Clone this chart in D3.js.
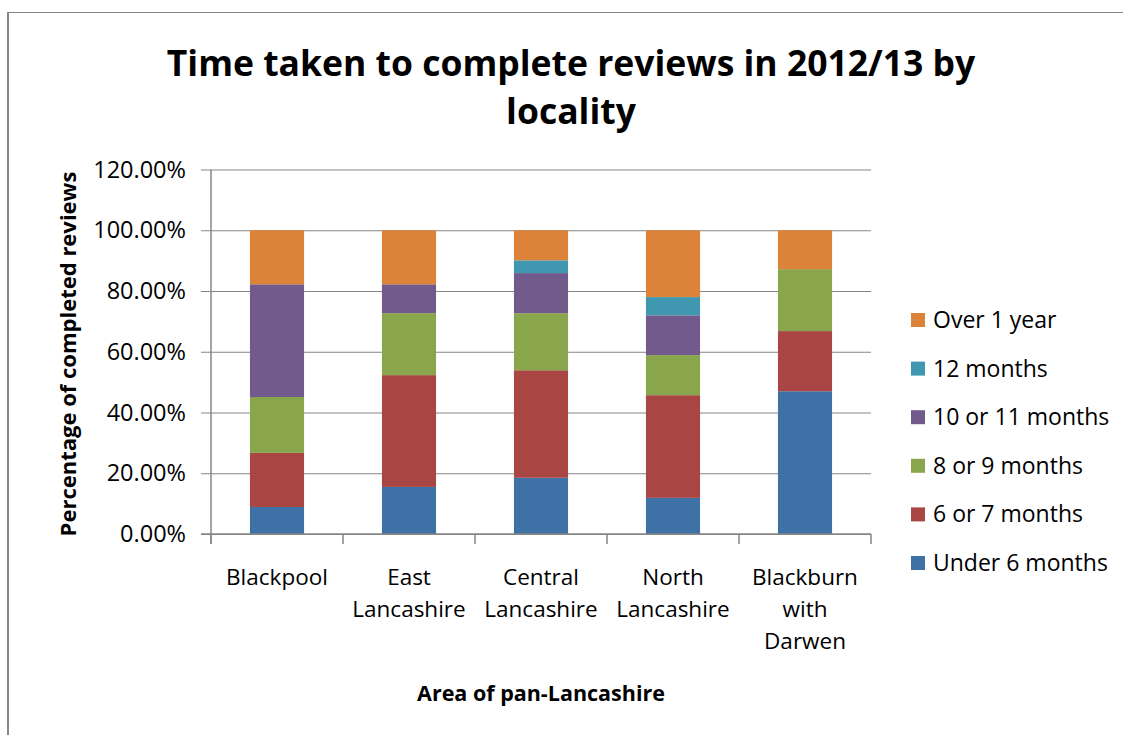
<!DOCTYPE html>
<html>
<head>
<meta charset="utf-8">
<script src="https://cdn.jsdelivr.net/npm/d3@7"></script>
<style>
  html, body { margin: 0; padding: 0; background: #fff; }
  svg { display: block; }
  text { font-family: "Open Sans", "Noto Sans", sans-serif; fill: #000; }
</style>
</head>
<body>
<svg id="chart" width="1123" height="735"></svg>
<script>
// Localities along the x axis (label lines as printed under each bar)
const categories = ["Blackpool", "East Lancashire", "Central Lancashire", "North Lancashire", "Blackburn with Darwen"];
const categoryLines = [["Blackpool"], ["East", "Lancashire"], ["Central", "Lancashire"], ["North", "Lancashire"], ["Blackburn", "with", "Darwen"]];

// Share of completed reviews by time taken (stacked bottom to top)
const seriesNames = ["Under 6 months", "6 or 7 months", "8 or 9 months", "10 or 11 months", "12 months", "Over 1 year"];
const under6   = [0.089, 0.155, 0.185, 0.119, 0.470];
const months67 = [0.178, 0.368, 0.354, 0.338, 0.198];
const months89 = [0.184, 0.204, 0.188, 0.132, 0.204];
const months1011 = [0.371, 0.095, 0.132, 0.131, 0.000];
const months12 = [0.000, 0.000, 0.042, 0.060, 0.000];
const over1yr  = [0.178, 0.178, 0.099, 0.220, 0.128];
const seriesColors = ["#3E71A5", "#A94543", "#8AA64C", "#735A8D", "#3F98B0", "#DD8339"];

const yTicks = [0, 0.2, 0.4, 0.6, 0.8, 1.0, 1.2];

const titleLines = ["Time taken to complete reviews in 2012/13 by", "locality"];
const xTitle = "Area of pan-Lancashire";
const yTitle = "Percentage of completed reviews";

const seriesValues = [under6, months67, months89, months1011, months12, over1yr];
const rows = categories.map((c, i) => {
  const r = { category: c };
  seriesNames.forEach((s, k) => { r[s] = seriesValues[k][i]; });
  return r;
});

const svg = d3.select("#chart");
const grey = "#868686";

// outer frame of the chart object
svg.append("line").attr("x1", 8).attr("x2", 8).attr("y1", 12).attr("y2", 735)
  .attr("stroke", grey).attr("stroke-width", 2);
svg.append("line").attr("x1", 7).attr("x2", 1123).attr("y1", 12.5).attr("y2", 12.5)
  .attr("stroke", grey).attr("stroke-width", 1);

const plot = { left: 211, right: 871, top: 169.5, bottom: 534 };

const x = d3.scaleBand().domain(categories)
  .range([plot.left, plot.right]).paddingInner(0.59).paddingOuter(0.295);
const y = d3.scaleLinear().domain([0, 1.2]).range([plot.bottom, plot.top]);
const color = d3.scaleOrdinal().domain(seriesNames).range(seriesColors);

// horizontal gridlines with short tick stubs left of the axis
const yAxis = d3.axisLeft(y).tickValues(yTicks).tickFormat(d3.format(".2%"))
  .tickSize(10).tickPadding(15);
const yG = svg.append("g").attr("transform", `translate(${plot.left},0)`).call(yAxis);
yG.select(".domain").remove();
yG.selectAll(".tick line").attr("stroke", grey).attr("stroke-width", 1)
  .attr("x1", plot.right - plot.left).attr("x2", -10);
yG.selectAll(".tick text").attr("font-size", 23.5).attr("fill", "#000")
  .attr("font-family", "Open Sans");

// stacked bars
const stack = d3.stack().keys(seriesNames);
const layers = stack(rows);
svg.append("g").selectAll("g").data(layers).join("g")
  .attr("fill", d => color(d.key))
  .selectAll("rect").data(d => d).join("rect")
  .attr("x", d => x(d.data.category))
  .attr("width", x.bandwidth())
  .attr("y", d => y(d[1]))
  .attr("height", d => y(d[0]) - y(d[1]));

// vertical axis line
svg.append("line").attr("x1", plot.left).attr("x2", plot.left)
  .attr("y1", plot.top).attr("y2", plot.bottom + 10)
  .attr("stroke", grey).attr("stroke-width", 1.5);

// category axis: baseline, boundary ticks, wrapped labels
const step = x.step();
const xG = svg.append("g");
xG.append("line").attr("x1", plot.left - 10).attr("x2", plot.right)
  .attr("y1", plot.bottom).attr("y2", plot.bottom)
  .attr("stroke", grey).attr("stroke-width", 1.5);
xG.selectAll(".bnd").data(d3.range(categories.length + 1)).join("line")
  .attr("class", "bnd")
  .attr("x1", i => plot.left + i * step).attr("x2", i => plot.left + i * step)
  .attr("y1", plot.bottom).attr("y2", plot.bottom + 10)
  .attr("stroke", grey).attr("stroke-width", 1.5);
categories.forEach((c, i) => {
  const cx = x(c) + x.bandwidth() / 2;
  const t = xG.append("text").attr("text-anchor", "middle").attr("font-size", 22.5)
    .attr("x", cx).attr("y", 585);
  categoryLines[i].forEach((line, j) => {
    t.append("tspan").attr("x", cx).attr("dy", j === 0 ? 0 : 32).text(line);
  });
});

// title
const title = svg.append("text").attr("text-anchor", "middle")
  .attr("font-size", 35.5).attr("font-weight", 700).attr("x", 571).attr("y", 76);
titleLines.forEach((line, j) => {
  title.append("tspan").attr("x", 571).attr("dy", j === 0 ? 0 : 48).text(line);
});

// axis titles
svg.append("text").attr("text-anchor", "middle").attr("font-size", 21.5).attr("font-weight", 700)
  .attr("x", 541).attr("y", 701).text(xTitle);
svg.append("text").attr("text-anchor", "middle").attr("font-size", 22).attr("font-weight", 700)
  .attr("transform", "translate(76,354) rotate(-90)").text(yTitle);

// legend, top entry first
const legendOrder = seriesNames.slice().reverse();
const lg = svg.append("g").selectAll("g").data(legendOrder).join("g")
  .attr("transform", (d, i) => `translate(911,${320 + i * 48.6})`);
lg.append("rect").attr("x", 0).attr("y", -7).attr("width", 14).attr("height", 14)
  .attr("fill", d => color(d));
lg.append("text").attr("x", 22).attr("y", 0).attr("dy", "0.35em")
  .attr("font-size", 23).text(d => d);
</script>
</body>
</html>
